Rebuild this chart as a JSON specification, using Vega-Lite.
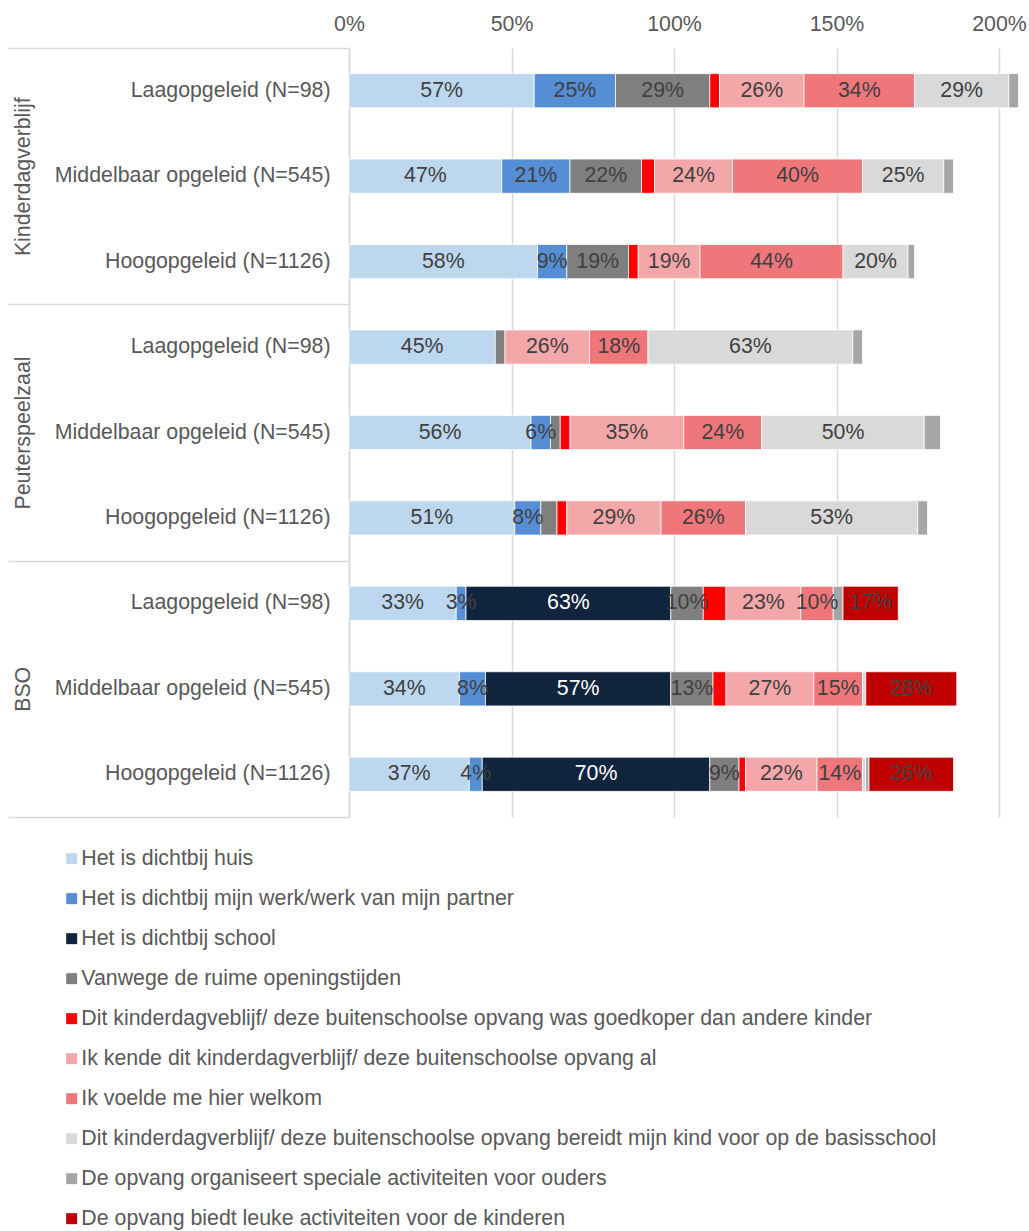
{
  "$schema": "https://vega.github.io/schema/vega-lite/v6.json",
  "width": 680,
  "height": 769,
  "autosize": {"type": "none"},
  "padding": {"left": 349, "top": 48, "right": 0, "bottom": 414},
  "background": "white",
  "config": {"font": "Liberation Sans, Arial, sans-serif", "view": {"stroke": null}},
  "datasets": {
    "series": [
      {"k": 1, "s": "Het is dichtbij huis"},
      {"k": 2, "s": "Het is dichtbij mijn werk/werk van mijn partner"},
      {"k": 3, "s": "Het is dichtbij school"},
      {"k": 4, "s": "Vanwege de ruime openingstijden"},
      {"k": 5, "s": "Dit kinderdagveblijf/ deze buitenschoolse opvang was goedkoper dan andere kinder"},
      {"k": 6, "s": "Ik kende dit kinderdagverblijf/ deze buitenschoolse opvang al"},
      {"k": 7, "s": "Ik voelde me hier welkom"},
      {"k": 8, "s": "Dit kinderdagverblijf/ deze buitenschoolse opvang bereidt mijn kind voor op de basisschool"},
      {"k": 9, "s": "De opvang organiseert speciale activiteiten voor ouders"},
      {"k": 10, "s": "De opvang biedt leuke activiteiten voor de kinderen"}
    ],
    "bars": [
      {"row": "KDV|Laagopgeleid (N=98)", "g": "Kinderdagverblijf", "k": 1, "v": 57},
      {"row": "KDV|Laagopgeleid (N=98)", "g": "Kinderdagverblijf", "k": 2, "v": 25},
      {"row": "KDV|Laagopgeleid (N=98)", "g": "Kinderdagverblijf", "k": 4, "v": 29},
      {"row": "KDV|Laagopgeleid (N=98)", "g": "Kinderdagverblijf", "k": 5, "v": 3},
      {"row": "KDV|Laagopgeleid (N=98)", "g": "Kinderdagverblijf", "k": 6, "v": 26},
      {"row": "KDV|Laagopgeleid (N=98)", "g": "Kinderdagverblijf", "k": 7, "v": 34},
      {"row": "KDV|Laagopgeleid (N=98)", "g": "Kinderdagverblijf", "k": 8, "v": 29},
      {"row": "KDV|Laagopgeleid (N=98)", "g": "Kinderdagverblijf", "k": 9, "v": 3},
      {"row": "KDV|Middelbaar opgeleid (N=545)", "g": "Kinderdagverblijf", "k": 1, "v": 47},
      {"row": "KDV|Middelbaar opgeleid (N=545)", "g": "Kinderdagverblijf", "k": 2, "v": 21},
      {"row": "KDV|Middelbaar opgeleid (N=545)", "g": "Kinderdagverblijf", "k": 4, "v": 22},
      {"row": "KDV|Middelbaar opgeleid (N=545)", "g": "Kinderdagverblijf", "k": 5, "v": 4},
      {"row": "KDV|Middelbaar opgeleid (N=545)", "g": "Kinderdagverblijf", "k": 6, "v": 24},
      {"row": "KDV|Middelbaar opgeleid (N=545)", "g": "Kinderdagverblijf", "k": 7, "v": 40},
      {"row": "KDV|Middelbaar opgeleid (N=545)", "g": "Kinderdagverblijf", "k": 8, "v": 25},
      {"row": "KDV|Middelbaar opgeleid (N=545)", "g": "Kinderdagverblijf", "k": 9, "v": 3},
      {"row": "KDV|Hoogopgeleid (N=1126)", "g": "Kinderdagverblijf", "k": 1, "v": 58},
      {"row": "KDV|Hoogopgeleid (N=1126)", "g": "Kinderdagverblijf", "k": 2, "v": 9},
      {"row": "KDV|Hoogopgeleid (N=1126)", "g": "Kinderdagverblijf", "k": 4, "v": 19},
      {"row": "KDV|Hoogopgeleid (N=1126)", "g": "Kinderdagverblijf", "k": 5, "v": 3},
      {"row": "KDV|Hoogopgeleid (N=1126)", "g": "Kinderdagverblijf", "k": 6, "v": 19},
      {"row": "KDV|Hoogopgeleid (N=1126)", "g": "Kinderdagverblijf", "k": 7, "v": 44},
      {"row": "KDV|Hoogopgeleid (N=1126)", "g": "Kinderdagverblijf", "k": 8, "v": 20},
      {"row": "KDV|Hoogopgeleid (N=1126)", "g": "Kinderdagverblijf", "k": 9, "v": 2},
      {"row": "PSZ|Laagopgeleid (N=98)", "g": "Peuterspeelzaal", "k": 1, "v": 45},
      {"row": "PSZ|Laagopgeleid (N=98)", "g": "Peuterspeelzaal", "k": 4, "v": 3},
      {"row": "PSZ|Laagopgeleid (N=98)", "g": "Peuterspeelzaal", "k": 6, "v": 26},
      {"row": "PSZ|Laagopgeleid (N=98)", "g": "Peuterspeelzaal", "k": 7, "v": 18},
      {"row": "PSZ|Laagopgeleid (N=98)", "g": "Peuterspeelzaal", "k": 8, "v": 63},
      {"row": "PSZ|Laagopgeleid (N=98)", "g": "Peuterspeelzaal", "k": 9, "v": 3},
      {"row": "PSZ|Middelbaar opgeleid (N=545)", "g": "Peuterspeelzaal", "k": 1, "v": 56},
      {"row": "PSZ|Middelbaar opgeleid (N=545)", "g": "Peuterspeelzaal", "k": 2, "v": 6},
      {"row": "PSZ|Middelbaar opgeleid (N=545)", "g": "Peuterspeelzaal", "k": 4, "v": 3},
      {"row": "PSZ|Middelbaar opgeleid (N=545)", "g": "Peuterspeelzaal", "k": 5, "v": 3},
      {"row": "PSZ|Middelbaar opgeleid (N=545)", "g": "Peuterspeelzaal", "k": 6, "v": 35},
      {"row": "PSZ|Middelbaar opgeleid (N=545)", "g": "Peuterspeelzaal", "k": 7, "v": 24},
      {"row": "PSZ|Middelbaar opgeleid (N=545)", "g": "Peuterspeelzaal", "k": 8, "v": 50},
      {"row": "PSZ|Middelbaar opgeleid (N=545)", "g": "Peuterspeelzaal", "k": 9, "v": 5},
      {"row": "PSZ|Hoogopgeleid (N=1126)", "g": "Peuterspeelzaal", "k": 1, "v": 51},
      {"row": "PSZ|Hoogopgeleid (N=1126)", "g": "Peuterspeelzaal", "k": 2, "v": 8},
      {"row": "PSZ|Hoogopgeleid (N=1126)", "g": "Peuterspeelzaal", "k": 4, "v": 5},
      {"row": "PSZ|Hoogopgeleid (N=1126)", "g": "Peuterspeelzaal", "k": 5, "v": 3},
      {"row": "PSZ|Hoogopgeleid (N=1126)", "g": "Peuterspeelzaal", "k": 6, "v": 29},
      {"row": "PSZ|Hoogopgeleid (N=1126)", "g": "Peuterspeelzaal", "k": 7, "v": 26},
      {"row": "PSZ|Hoogopgeleid (N=1126)", "g": "Peuterspeelzaal", "k": 8, "v": 53},
      {"row": "PSZ|Hoogopgeleid (N=1126)", "g": "Peuterspeelzaal", "k": 9, "v": 3},
      {"row": "BSO|Laagopgeleid (N=98)", "g": "BSO", "k": 1, "v": 33},
      {"row": "BSO|Laagopgeleid (N=98)", "g": "BSO", "k": 2, "v": 3},
      {"row": "BSO|Laagopgeleid (N=98)", "g": "BSO", "k": 3, "v": 63},
      {"row": "BSO|Laagopgeleid (N=98)", "g": "BSO", "k": 4, "v": 10},
      {"row": "BSO|Laagopgeleid (N=98)", "g": "BSO", "k": 5, "v": 7},
      {"row": "BSO|Laagopgeleid (N=98)", "g": "BSO", "k": 6, "v": 23},
      {"row": "BSO|Laagopgeleid (N=98)", "g": "BSO", "k": 7, "v": 10},
      {"row": "BSO|Laagopgeleid (N=98)", "g": "BSO", "k": 9, "v": 3},
      {"row": "BSO|Laagopgeleid (N=98)", "g": "BSO", "k": 10, "v": 17},
      {"row": "BSO|Middelbaar opgeleid (N=545)", "g": "BSO", "k": 1, "v": 34},
      {"row": "BSO|Middelbaar opgeleid (N=545)", "g": "BSO", "k": 2, "v": 8},
      {"row": "BSO|Middelbaar opgeleid (N=545)", "g": "BSO", "k": 3, "v": 57},
      {"row": "BSO|Middelbaar opgeleid (N=545)", "g": "BSO", "k": 4, "v": 13},
      {"row": "BSO|Middelbaar opgeleid (N=545)", "g": "BSO", "k": 5, "v": 4},
      {"row": "BSO|Middelbaar opgeleid (N=545)", "g": "BSO", "k": 6, "v": 27},
      {"row": "BSO|Middelbaar opgeleid (N=545)", "g": "BSO", "k": 7, "v": 15},
      {"row": "BSO|Middelbaar opgeleid (N=545)", "g": "BSO", "k": 8, "v": 1},
      {"row": "BSO|Middelbaar opgeleid (N=545)", "g": "BSO", "k": 10, "v": 28},
      {"row": "BSO|Hoogopgeleid (N=1126)", "g": "BSO", "k": 1, "v": 37},
      {"row": "BSO|Hoogopgeleid (N=1126)", "g": "BSO", "k": 2, "v": 4},
      {"row": "BSO|Hoogopgeleid (N=1126)", "g": "BSO", "k": 3, "v": 70},
      {"row": "BSO|Hoogopgeleid (N=1126)", "g": "BSO", "k": 4, "v": 9},
      {"row": "BSO|Hoogopgeleid (N=1126)", "g": "BSO", "k": 5, "v": 2},
      {"row": "BSO|Hoogopgeleid (N=1126)", "g": "BSO", "k": 6, "v": 22},
      {"row": "BSO|Hoogopgeleid (N=1126)", "g": "BSO", "k": 7, "v": 14},
      {"row": "BSO|Hoogopgeleid (N=1126)", "g": "BSO", "k": 8, "v": 1},
      {"row": "BSO|Hoogopgeleid (N=1126)", "g": "BSO", "k": 9, "v": 1},
      {"row": "BSO|Hoogopgeleid (N=1126)", "g": "BSO", "k": 10, "v": 26}
    ]
  },
  "data": {"name": "bars"},
  "transform": [
    {"lookup": "k", "from": {"data": {"name": "series"}, "key": "k", "fields": ["s"]}},
    {"stack": "v", "groupby": ["row"], "sort": [{"field": "k", "order": "ascending"}], "as": ["x0", "x1"]},
    {"calculate": "(datum.x0 + datum.x1) / 2", "as": "xm"},
    {"calculate": "datum.v + '%'", "as": "lab"}
  ],
  "layer": [
    {
      "layer": [
        {
          "mark": {"type": "bar", "stroke": "white", "strokeWidth": 0.75},
          "encoding": {
            "y": {
              "field": "row", "type": "nominal",
              "sort": ["KDV|Laagopgeleid (N=98)", "KDV|Middelbaar opgeleid (N=545)", "KDV|Hoogopgeleid (N=1126)", "PSZ|Laagopgeleid (N=98)", "PSZ|Middelbaar opgeleid (N=545)", "PSZ|Hoogopgeleid (N=1126)", "BSO|Laagopgeleid (N=98)", "BSO|Middelbaar opgeleid (N=545)", "BSO|Hoogopgeleid (N=1126)"],
              "scale": {"paddingInner": 0.6, "paddingOuter": 0.3},
              "axis": {
                "orient": "left", "title": null, "ticks": false, "domain": true,
                "domainColor": "#d9d9d9", "domainWidth": 1.5, "labelPadding": 19,
                "labelFontSize": 21.33, "labelColor": "#595959", "labelLimit": 400,
                "labelExpr": "split(datum.label, '|')[1]", "grid": false
              }
            },
            "x": {
              "field": "x0", "type": "quantitative",
              "scale": {"domain": [0, 209.23], "nice": false, "zero": true},
              "axis": {
                "orient": "top", "title": null, "values": [0, 50, 100, 150, 200],
                "labelExpr": "datum.value + '%'", "ticks": false, "domain": false,
                "grid": true, "gridColor": "#d9d9d9", "gridWidth": 1.5,
                "labelFontSize": 21.33, "labelColor": "#595959", "labelPadding": 18,
                "labelBaseline": "alphabetic", "labelFlush": false
              }
            },
            "x2": {"field": "x1"},
            "color": {
              "field": "s", "type": "nominal",
              "scale": {
                "domain": [
                  "Het is dichtbij huis",
                  "Het is dichtbij mijn werk/werk van mijn partner",
                  "Het is dichtbij school",
                  "Vanwege de ruime openingstijden",
                  "Dit kinderdagveblijf/ deze buitenschoolse opvang was goedkoper dan andere kinder",
                  "Ik kende dit kinderdagverblijf/ deze buitenschoolse opvang al",
                  "Ik voelde me hier welkom",
                  "Dit kinderdagverblijf/ deze buitenschoolse opvang bereidt mijn kind voor op de basisschool",
                  "De opvang organiseert speciale activiteiten voor ouders",
                  "De opvang biedt leuke activiteiten voor de kinderen"
                ],
                "range": ["#bdd7ee", "#558ed5", "#10243e", "#7f7f7f", "#ff0000", "#f4a7a9", "#ef777a", "#d9d9d9", "#a6a6a6", "#c00000"]
              },
              "legend": {
                "title": null, "orient": "none", "legendX": -288, "legendY": 800,
                "direction": "vertical", "columns": 1,
                "symbolType": "square", "symbolSize": 121, "symbolStrokeWidth": 0,
                "labelFontSize": 21.33, "labelColor": "#595959", "labelLimit": 1000,
                "labelOffset": -1, "rowPadding": 18
              }
            }
          }
        },
        {
          "transform": [{"filter": "datum.k != 5 && datum.k != 9 && datum.v >= 3 && !(datum.k == 4 && datum.v < 9)"}],
          "mark": {"type": "text", "fontSize": 21.33, "align": "center", "baseline": "middle"},
          "encoding": {
            "y": {
              "field": "row", "type": "nominal",
              "sort": ["KDV|Laagopgeleid (N=98)", "KDV|Middelbaar opgeleid (N=545)", "KDV|Hoogopgeleid (N=1126)", "PSZ|Laagopgeleid (N=98)", "PSZ|Middelbaar opgeleid (N=545)", "PSZ|Hoogopgeleid (N=1126)", "BSO|Laagopgeleid (N=98)", "BSO|Middelbaar opgeleid (N=545)", "BSO|Hoogopgeleid (N=1126)"]
            },
            "x": {"field": "xm", "type": "quantitative"},
            "text": {"field": "lab"},
            "color": {"condition": {"test": "datum.k == 3", "value": "#ffffff"}, "value": "#404040"}
          }
        }
      ]
    },
    {
      "mark": {"type": "bar", "opacity": 0},
      "encoding": {
        "y": {
          "field": "g", "type": "nominal",
          "sort": ["Kinderdagverblijf", "Peuterspeelzaal", "BSO"],
          "scale": {"type": "band", "paddingInner": 0, "paddingOuter": 0},
          "axis": {
            "orient": "left", "title": null, "domain": false, "grid": false,
            "ticks": true, "tickBand": "extent", "tickSize": 341,
            "tickColor": "#d9d9d9", "tickWidth": 1.5,
            "labelAngle": -90, "labelAlign": "center", "labelBaseline": "alphabetic",
            "labelPadding": -21, "labelFontSize": 21.33, "labelColor": "#595959"
          }
        },
        "x": {"field": "x0", "type": "quantitative"},
        "x2": {"field": "x1"}
      }
    }
  ],
  "resolve": {"scale": {"y": "independent"}, "axis": {"y": "independent"}}
}
